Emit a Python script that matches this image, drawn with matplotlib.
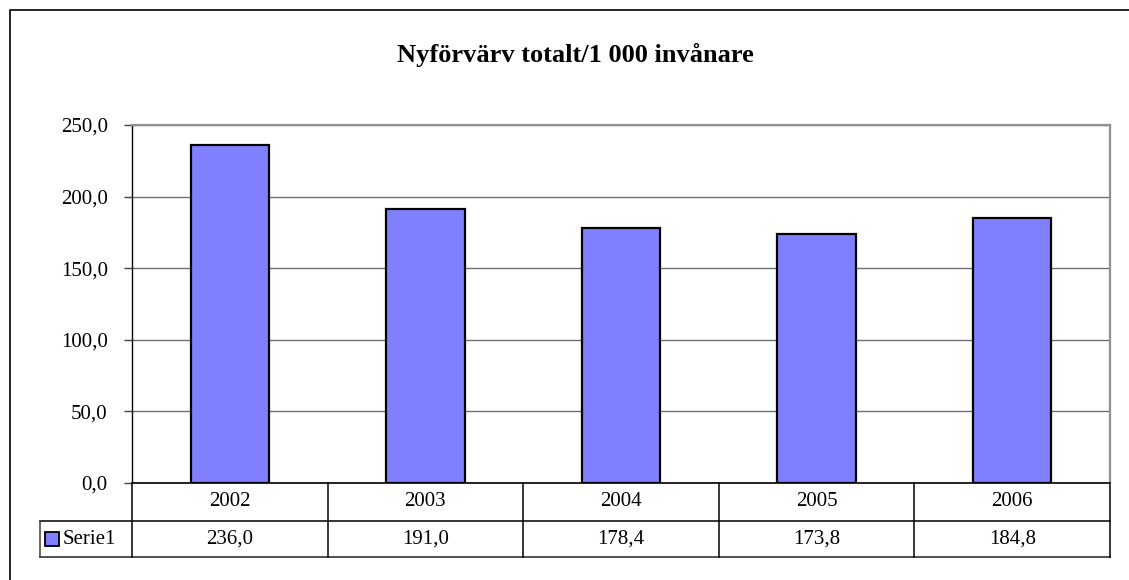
import matplotlib.pyplot as plt
import matplotlib.transforms as mtransforms
from matplotlib.patches import Rectangle
import numpy as np

plt.rcParams['font.family'] = ['Liberation Serif', 'DejaVu Serif']

# data
years = ["2002", "2003", "2004", "2005", "2006"]
values = [236.0, 191.0, 178.4, 173.8, 184.8]
series_name = "Serie1"
title = "Nyförvärv totalt/1 000 invånare"

W, H = 1129, 580
fig = plt.figure(figsize=(W / 100, H / 100), dpi=100)

def fy(py):
    # pixel row (from top) -> figure fraction
    return 1 - py / H

def fx(px):
    return px / W

# outer chart border (only top/left visible in the crop)
fig.patches.append(Rectangle((fx(10), fy(640)), fx(1200), fy(10) - fy(640),
                             transform=fig.transFigure, fill=False,
                             edgecolor="black", linewidth=1.2))

ax = fig.add_axes([fx(132), fy(483), fx(1110) - fx(132), fy(125) - fy(483)])
x = np.arange(len(years))
ax.bar(x, values, width=0.4, color="#8080FF", edgecolor="black", linewidth=1.6, zorder=3)

ax.set_xlim(-0.5, len(years) - 0.5)
ax.set_ylim(0, 250)
ax.set_yticks(np.arange(0, 251, 50))
ax.set_yticklabels([f"{v:.1f}".replace(".", ",") for v in np.arange(0, 251, 50)])
ax.tick_params(axis="y", direction="out", length=5.5, width=1, labelsize=15, pad=12,
               color="#404040")
ax.set_xticks([])
ax.yaxis.grid(True, color="#707070", linewidth=1)
ax.set_axisbelow(True)
ax.spines["top"].set_color("#909090")
ax.spines["right"].set_color("#909090")
ax.spines["top"].set_linewidth(1.6)
ax.spines["right"].set_linewidth(1.6)
ax.spines["left"].set_linewidth(1)
ax.spines["bottom"].set_linewidth(1.2)

fig.text(fx(575), fy(55), title, ha="center", va="center",
         fontsize=19, fontweight="bold")

# data table under the axis
tr = mtransforms.blended_transform_factory(ax.transData, fig.transFigure)
r0, r1, r2 = fy(483), fy(521), fy(557)
lw = 1.1
left_edge = -0.5 - 92 / 195.6
right_edge = len(years) - 0.5
ax.plot([left_edge, right_edge], [r1, r1], transform=tr, color="black", lw=lw, clip_on=False)
ax.plot([left_edge, right_edge], [r2, r2], transform=tr, color="#505050", lw=lw + 0.3, clip_on=False)
ax.plot([left_edge, left_edge], [r1, r2], transform=tr, color="#404040", lw=lw, clip_on=False)
for b in np.arange(-0.5, len(years), 1.0):
    ax.plot([b, b], [r0, r2], transform=tr, color="black", lw=lw, clip_on=False)

for i, (yr, v) in enumerate(zip(years, values)):
    ax.text(i, (r0 + r1) / 2, yr, transform=tr, ha="center", va="center", fontsize=15)
    ax.text(i, (r1 + r2) / 2, f"{v:.1f}".replace(".", ","), transform=tr,
            ha="center", va="center", fontsize=15)

# legend key in table
fig.patches.append(Rectangle((fx(45), fy(546)), fx(14), fy(532) - fy(546),
                             transform=fig.transFigure, facecolor="#8080FF",
                             edgecolor="black", linewidth=1.3))
fig.text(fx(63), (r1 + r2) / 2, series_name, ha="left", va="center", fontsize=15)

fig.savefig("out.png", dpi=100)
